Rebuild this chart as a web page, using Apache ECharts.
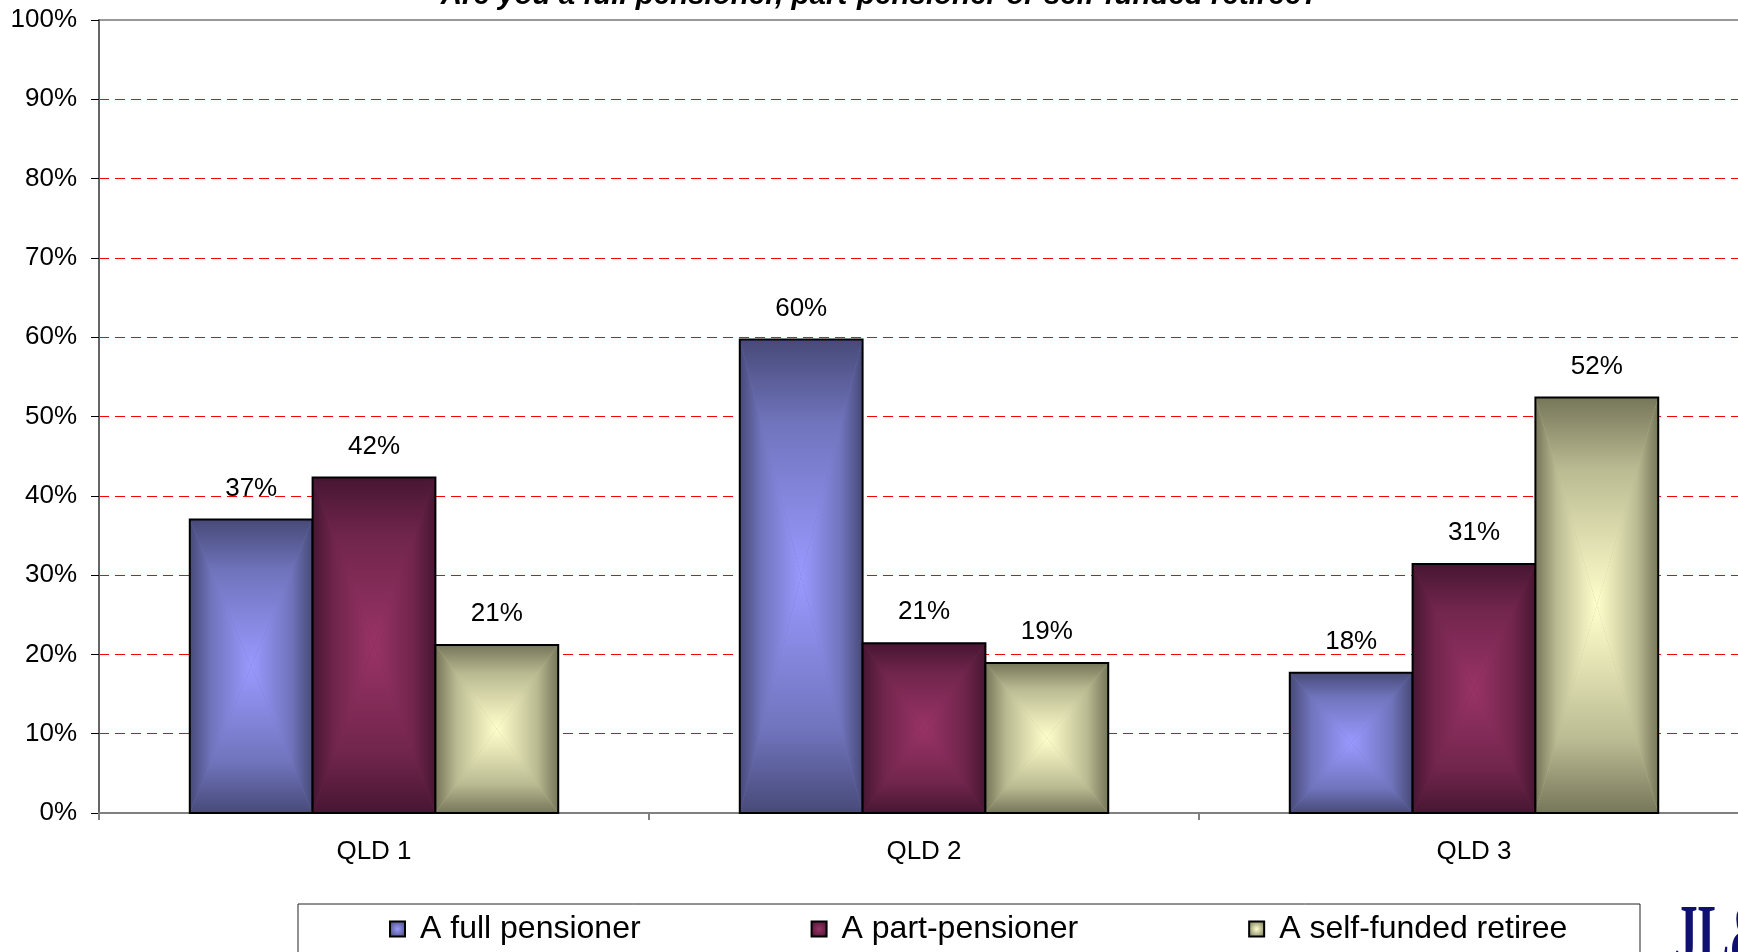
<!DOCTYPE html>
<html>
<head>
<meta charset="utf-8">
<script src="https://cdn.jsdelivr.net/npm/echarts@6/dist/echarts.min.js"></script>
<style>
html,body{margin:0;padding:0;background:#fff;}
#chart{width:1738px;height:952px;}
</style>
</head>
<body>
<div id="chart"></div>
<script>
const title = 'Are you a full pensioner, part-pensioner or self-funded retiree?';
const categories = ['QLD 1', 'QLD 2', 'QLD 3'];
const seriesNames = ['A full pensioner', 'A part-pensioner', 'A self-funded retiree'];
const fullPensioner = [37.0, 59.7, 17.7];
const partPensioner = [42.3, 21.4, 31.4];
const selfFunded = [21.2, 18.9, 52.4];
const seriesValues = [fullPensioner, partPensioner, selfFunded];
const yMin = 0, yMax = 100, yInterval = 10;

const COLORS = [
  { edge: '#474a78', mid: '#7074bc', center: '#9999ff' },
  { edge: '#471632', mid: '#70254c', center: '#993366' },
  { edge: '#76765a', mid: '#bbbb93', center: '#ffffcc' }
];
const FONT = '"Liberation Sans", Arial, sans-serif';
const BAR_FRACTION = 0.2233;

function grad(c, x, y, x2, y2) {
  return { type: 'linear', x: x, y: y, x2: x2, y2: y2,
    colorStops: [{ offset: 0, color: c.edge }, { offset: 0.35, color: c.mid }, { offset: 1, color: c.center }] };
}

function renderBar(params, api) {
  const si = params.seriesIndex;
  const cat = api.value(0), val = api.value(1);
  const p0 = api.coord([cat, 0]);
  const p1 = api.coord([cat, val]);
  const band = api.size([1, 0])[0];
  const bw = band * BAR_FRACTION;
  const x0 = p0[0] - 1.5 * bw + si * bw;
  const x1 = x0 + bw;
  const yTop = p1[1], yBot = p0[1];
  const w = bw, h = yBot - yTop;
  const cx = (x0 + x1) / 2, cy = (yTop + yBot) / 2;
  const c = COLORS[si];
  return {
    type: 'group',
    children: [
      { type: 'rect', shape: { x: x0, y: yTop, width: w, height: h }, style: { fill: c.mid } },
      { type: 'polygon', shape: { points: [[x0, yTop], [cx, cy], [x0, yBot]] }, style: { fill: grad(c, 0, 0, 1, 0), stroke: 'none' } },
      { type: 'polygon', shape: { points: [[x1, yTop], [cx, cy], [x1, yBot]] }, style: { fill: grad(c, 1, 0, 0, 0), stroke: 'none' } },
      { type: 'polygon', shape: { points: [[x0, yTop], [x1, yTop], [cx, cy]] }, style: { fill: grad(c, 0, 0, 0, 1), stroke: 'none' } },
      { type: 'polygon', shape: { points: [[x0, yBot], [x1, yBot], [cx, cy]] }, style: { fill: grad(c, 0, 1, 0, 0), stroke: 'none' } },
      { type: 'rect', shape: { x: x0, y: yTop, width: w, height: h }, style: { fill: 'none', stroke: '#000', lineWidth: 2 } },
      { type: 'text', style: { text: Math.round(val) + '%', x: cx, y: yTop - 18, align: 'center', verticalAlign: 'bottom', font: '26px ' + FONT, fill: '#000' } }
    ]
  };
}

const chart = echarts.init(document.getElementById('chart'), null, { renderer: 'canvas' });
chart.setOption({
  backgroundColor: '#ffffff',
  animation: false,
  title: {
    text: title,
    left: 875,
    textAlign: 'center',
    top: -24,
    textStyle: { fontFamily: FONT, fontSize: 29.5, fontWeight: 'bold', fontStyle: 'italic', color: '#000' }
  },
  grid: {
    left: 99, top: 20, width: 1650, height: 793,
    show: true, borderColor: '#999999', borderWidth: 2, backgroundColor: 'transparent',
    outerBoundsMode: 'none', containLabel: false
  },
  legend: {
    left: 389, top: 913, padding: 0,
    itemWidth: 15, itemHeight: 15, itemGap: 170,
    icon: 'rect',
    textStyle: { fontFamily: FONT, fontSize: 32, color: '#000', padding: [0, 0, 0, 10] },
    data: seriesNames.map(function (n, i) {
      return { name: n, itemStyle: { color: { type: 'radial', x: 0.5, y: 0.5, r: 0.6, colorStops: [{ offset: 0, color: COLORS[i].center }, { offset: 1, color: COLORS[i].edge }] }, borderColor: '#000', borderWidth: 2 } };
    })
  },
  xAxis: {
    type: 'category',
    data: categories,
    boundaryGap: true,
    axisLine: { show: true, lineStyle: { color: '#808080', width: 2 } },
    axisTick: { show: true, length: 7, lineStyle: { color: '#808080', width: 2 } },
    axisLabel: { fontFamily: FONT, fontSize: 26, color: '#000', margin: 26 },
    splitLine: { show: false }
  },
  yAxis: {
    type: 'value',
    min: yMin, max: yMax, interval: yInterval,
    axisLine: { show: true, lineStyle: { color: '#666666', width: 2 } },
    axisTick: { show: true, length: 8, lineStyle: { color: '#000', width: 1 } },
    axisLabel: { fontFamily: FONT, fontSize: 26, color: '#000', margin: 22, formatter: '{value}%' },
    splitLine: { show: true, showMaxLine: false, lineStyle: { color: '#ff0000', type: [10, 6], width: 1 } }
  },
  graphic: [
    { type: 'rect', shape: { x: 298, y: 904, width: 1342, height: 70 }, style: { fill: 'none', stroke: '#222', lineWidth: 1 }, z: 10 },
    { type: 'text', x: 1674, y: 899, scaleX: 0.55, style: { text: 'JL&', font: 'bold 86px "Liberation Serif", serif', fill: '#101070' }, z: 10 }
  ],
  series: seriesNames.map(function (n, i) {
    return {
      name: n,
      type: 'custom',
      renderItem: renderBar,
      encode: { x: 0, y: 1 },
      itemStyle: { color: COLORS[i].center },
      data: seriesValues[i].map(function (v, k) { return [k, v]; }),
      z: 5
    };
  })
});
</script>
</body>
</html>
